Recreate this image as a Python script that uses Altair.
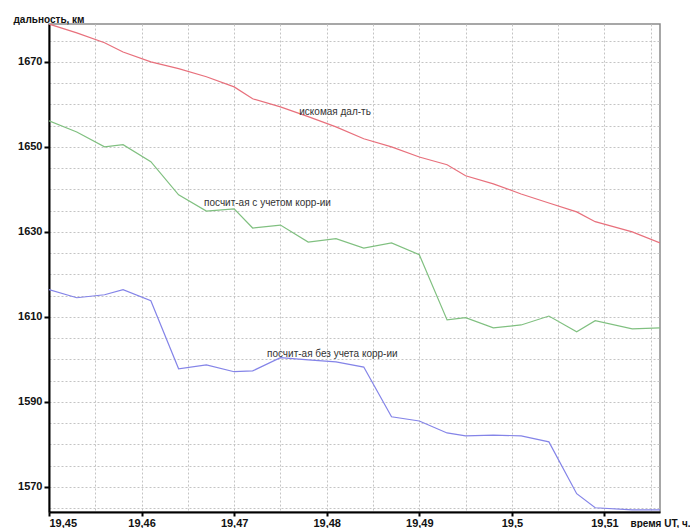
import altair as alt
import pandas as pd

# time, hours UT
t = [19.450, 19.453, 19.456, 19.458, 19.461, 19.464, 19.467, 19.470, 19.472, 19.475,
     19.478, 19.481, 19.484, 19.487, 19.490, 19.493, 19.495, 19.498, 19.501, 19.504,
     19.507, 19.509, 19.513, 19.516]

target = [1678.9, 1676.8, 1674.5, 1672.3, 1670.0, 1668.4, 1666.5, 1664.1, 1661.3, 1659.4,
          1657.1, 1654.7, 1651.9, 1650.0, 1647.6, 1645.8, 1643.2, 1641.3, 1638.9, 1636.8,
          1634.7, 1632.4, 1630.0, 1627.4]

corrected = [1656.1, 1653.5, 1650.0, 1650.5, 1646.5, 1638.7, 1634.9, 1635.4, 1630.9, 1631.6,
             1627.6, 1628.4, 1626.2, 1627.4, 1624.6, 1609.3, 1609.8, 1607.4, 1608.1, 1610.2,
             1606.5, 1609.1, 1607.2, 1607.4]

uncorrected = [1616.4, 1614.5, 1615.2, 1616.4, 1613.8, 1597.8, 1598.7, 1597.1, 1597.3, 1600.4,
               1599.9, 1599.4, 1598.2, 1586.5, 1585.5, 1582.7, 1582.0, 1582.2, 1582.0, 1580.6,
               1568.4, 1565.1, 1564.6, 1564.6]

series_names = ["искомая дал-ть", "посчит-ая с учетом корр-ии", "посчит-ая без учета корр-ии"]
series_colors = ["#e8707c", "#80c080", "#8484e8"]

label_text = series_names
label_t = [19.4809, 19.4736, 19.4806]
label_v = [1658.2, 1636.8, 1601.3]

x_ticks = [19.45, 19.46, 19.47, 19.48, 19.49, 19.50, 19.51]
x_grid = [19.45, 19.455, 19.46, 19.465, 19.47, 19.475, 19.48, 19.485, 19.49, 19.495,
          19.50, 19.505, 19.51, 19.515]
y_ticks = [1570, 1590, 1610, 1630, 1650, 1670]
y_grid = [1565, 1570, 1575, 1580, 1585, 1590, 1595, 1600, 1605, 1610, 1615, 1620,
          1625, 1630, 1635, 1640, 1645, 1650, 1655, 1660, 1665, 1670, 1675]

rows = []
for name, vals in zip(series_names, [target, corrected, uncorrected]):
    for ti, v in zip(t, vals):
        rows.append({"t": ti, "v": v, "s": name})
df = pd.DataFrame(rows)
lab = pd.DataFrame({"t": label_t, "v": label_v, "txt": label_text})

xs = alt.Scale(domain=[19.45, 19.516], nice=False, zero=False)
ys = alt.Scale(domain=[1564.1, 1678.9], nice=False, zero=False)

grid_layer = alt.Chart(df).mark_point(opacity=0).encode(
    x=alt.X("t:Q", scale=xs, axis=alt.Axis(values=x_grid, grid=True, labels=False, ticks=False,
                                            domain=False, title=None, orient="bottom",
                                            gridColor="#c4c4c4", gridDash=[2, 2], gridWidth=1)),
    y=alt.Y("v:Q", scale=ys, axis=alt.Axis(values=y_grid, grid=True, labels=False, ticks=False,
                                            domain=False, title=None, orient="left",
                                            gridColor="#c4c4c4", gridDash=[2, 2], gridWidth=1)),
)

lines = alt.Chart(df).mark_line(strokeWidth=1.2, clip=True).encode(
    x=alt.X("t:Q", scale=xs, axis=alt.Axis(
        values=x_ticks, grid=False, orient="bottom",
        labelExpr="replace(format(datum.value, '.2~f'), '.', ',')",
        labelFont="Liberation Sans", labelFontWeight="bold", labelFontSize=11, labelColor="#111",
        labelPadding=1, tickSize=4, tickWidth=2, tickColor="#000",
        domainColor="#000", domainWidth=2,
        title="время UT, ч.", titleFont="Liberation Sans", titleFontWeight="bold",
        titleFontSize=10, titleColor="#111", titleAngle=0, titleAlign="left",
        titleBaseline="middle", titleX=581, titleY=11)),
    y=alt.Y("v:Q", scale=ys, axis=alt.Axis(
        values=y_ticks, grid=False, orient="left", format="d",
        labelFont="Liberation Sans", labelFontWeight="bold", labelFontSize=11, labelColor="#111",
        labelPadding=2, tickSize=5, tickWidth=2, tickColor="#000",
        domainColor="#000", domainWidth=2,
        title="дальность, км", titleFont="Liberation Sans", titleFontWeight="bold",
        titleFontSize=10, titleColor="#111", titleAngle=0, titleAlign="left",
        titleBaseline="middle", titleX=-36, titleY=-5)),
    color=alt.Color("s:N", scale=alt.Scale(domain=series_names, range=series_colors), legend=None),
    detail="s:N",
)

texts = alt.Chart(lab).mark_text(font="Liberation Sans", fontSize=10, color="#333").encode(
    x=alt.X("t:Q", scale=xs, axis=None),
    y=alt.Y("v:Q", scale=ys, axis=None),
    text="txt:N",
)

chart = alt.layer(grid_layer, lines, texts).resolve_axis(x="independent", y="independent").properties(
    width=611, height=488,
    autosize=alt.AutoSizeParams(type="none"),
    padding={"left": 41, "top": 16, "right": 30, "bottom": 20},
).configure_view(stroke="#8a8a8a", strokeWidth=1.5)

chart.save("out.html", embed_options={"renderer": "svg", "actions": False})
